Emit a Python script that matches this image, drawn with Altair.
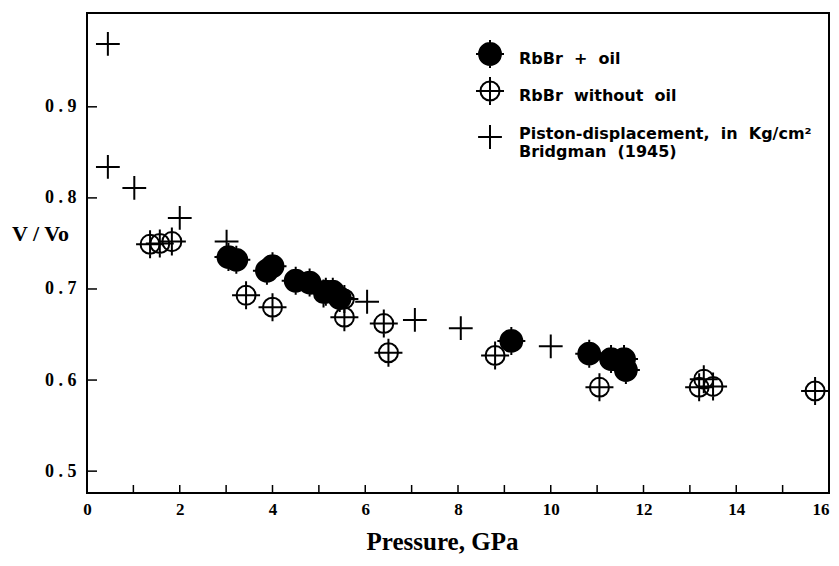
import altair as alt
import pandas as pd

# ---- data ----
oil_x = [3.05, 3.22, 3.88, 4.00, 4.50, 4.80, 5.15, 5.30, 5.45, 9.15, 10.83, 11.30, 11.58, 11.62]
oil_y = [0.735, 0.732, 0.720, 0.725, 0.709, 0.707, 0.697, 0.697, 0.690, 0.643, 0.629, 0.623, 0.623, 0.611]

dry_x = [1.36, 1.57, 1.83, 3.43, 4.00, 5.10, 5.55, 5.55, 6.40, 6.50, 8.80, 11.05, 13.20, 13.30, 13.50, 15.70]
dry_y = [0.749, 0.750, 0.752, 0.693, 0.680, 0.695, 0.689, 0.669, 0.662, 0.630, 0.627, 0.592, 0.592, 0.601, 0.593, 0.588]

bri_x = [0.45, 0.45, 1.02, 2.00, 3.01, 6.04, 7.07, 8.06, 10.00]
bri_y = [0.969, 0.834, 0.811, 0.778, 0.752, 0.686, 0.666, 0.657, 0.637]

series_names = [
    "RbBr\u00a0\u00a0+\u00a0\u00a0oil",
    "RbBr\u00a0\u00a0without\u00a0\u00a0oil",
    "Piston-displacement,\u00a0\u00a0in\u00a0\u00a0Kg/cm\u00b2|Bridgman\u00a0\u00a0(1945)",
]

x_labels = [0, 2, 4, 6, 8, 10, 12, 14, 16]
x_ticks = list(range(1, 16))
y_labels = [0.5, 0.6, 0.7, 0.8, 0.9]

# ---- tables ----
rows = []
for x, y in zip(dry_x, dry_y):
    rows.append({"p": x, "v": y, "series": series_names[1]})
for x, y in zip(bri_x, bri_y):
    rows.append({"p": x, "v": y, "series": series_names[2]})
for x, y in zip(oil_x, oil_y):
    rows.append({"p": x, "v": y, "series": series_names[0]})
df = pd.DataFrame(rows)
xt = pd.DataFrame({"t": x_ticks})
yt = pd.DataFrame({"t": y_labels})

FILLED = "M-1,0H1M0,-1V1M0.78,0A0.78,0.78,0,1,1,-0.78,0A0.78,0.78,0,1,1,0.78,0"
OPEN = "M-1,0H1M0,-1V1M0.68,0A0.68,0.68,0,1,1,-0.68,0A0.68,0.68,0,1,1,0.68,0"
PLUS = "M-0.85,0H0.85M0,-0.85V0.85"
SHAPES = [FILLED, OPEN, PLUS]
FILLS = ["black", "transparent", "transparent"]

W, H = 742, 480
xscale = alt.Scale(domain=[0, 16], nice=False, zero=False)
yscale = alt.Scale(domain=[0.476, 1.003], nice=False, zero=False)
SERIF = "Liberation Serif"

xaxis = alt.Axis(
    values=x_labels, ticks=False, tickSize=0, domain=False, grid=False,
    labelFont=SERIF, labelFontWeight="bold", labelFontSize=17, labelColor="black",
    labelPadding=8, labelFlush=False,
    labelAlign={"condition": {"test": "datum.value == 16", "value": "right"}, "value": "center"},
    title="Pressure, GPa", titleFont=SERIF, titleFontWeight="bold", titleFontSize=25,
    titleColor="black", titleX=355, titleY=56, titleAlign="center",
    titleBaseline="alphabetic", titleAnchor="start")
yaxis = alt.Axis(
    values=y_labels, ticks=False, tickSize=0, domain=False, grid=False,
    labelExpr="replace(format(datum.value, '.1f'), '.', ' . ')",
    labelFont=SERIF, labelFontWeight="bold", labelFontSize=18, labelColor="black",
    labelPadding=11,
    title="V / Vo", titleFont=SERIF, titleFontWeight="bold", titleFontSize=22,
    titleColor="black", titleAngle=0, titleX=-47, titleY=227, titleAlign="center",
    titleBaseline="alphabetic", titleAnchor="start")

points = alt.Chart(df).mark_point(
    filled=True, stroke="black", strokeWidth=2, size=784, opacity=1
).encode(
    x=alt.X("p:Q", scale=xscale, axis=xaxis),
    y=alt.Y("v:Q", scale=yscale, axis=yaxis),
    shape=alt.Shape("series:N", scale=alt.Scale(domain=series_names, range=SHAPES), legend=None),
    fill=alt.Fill("series:N", scale=alt.Scale(domain=series_names, range=FILLS), legend=None),
)

xticks = alt.Chart(xt).mark_rule(color="black", strokeWidth=1.5).encode(
    x=alt.X("t:Q", scale=xscale, axis=xaxis),
    y=alt.value(H), y2=alt.value(H - 8),
)
yticks = alt.Chart(yt).mark_rule(color="black", strokeWidth=1.5).encode(
    y=alt.Y("t:Q", scale=yscale, axis=yaxis),
    x=alt.value(0), x2=alt.value(10),
)

# ---- hand-drawn legend (inside the frame, top right) ----
sym_x, txt_x = 403, 432
sym_y = [41, 78, 124]
txt_y = [50.5, 87.5, 125.5]
legend_layers = []
for i, name in enumerate(series_names):
    ld = pd.DataFrame({"series": [name]})
    legend_layers.append(
        alt.Chart(ld).mark_point(shape=SHAPES[i], size=784, filled=True, fill=FILLS[i],
                                 stroke="black", strokeWidth=2, opacity=1)
        .encode(x=alt.value(sym_x), y=alt.value(sym_y[i]))
    )
    legend_layers.append(
        alt.Chart(ld).mark_text(align="left", baseline="alphabetic", font="DejaVu Sans",
                                fontWeight="bold", fontSize=16, color="black",
                                lineBreak="|", lineHeight=18)
        .encode(x=alt.value(txt_x), y=alt.value(txt_y[i]), text="series:N")
    )

chart = alt.layer(xticks, yticks, points, *legend_layers).properties(
    width=W, height=H,
    autosize=alt.AutoSizeParams(type="none"),
    padding={"left": 79, "top": 5, "right": 2, "bottom": 63},
    background="white",
).configure_view(stroke="black", strokeWidth=2)

chart.save("out.html", embed_options={"renderer": "svg", "actions": False})
